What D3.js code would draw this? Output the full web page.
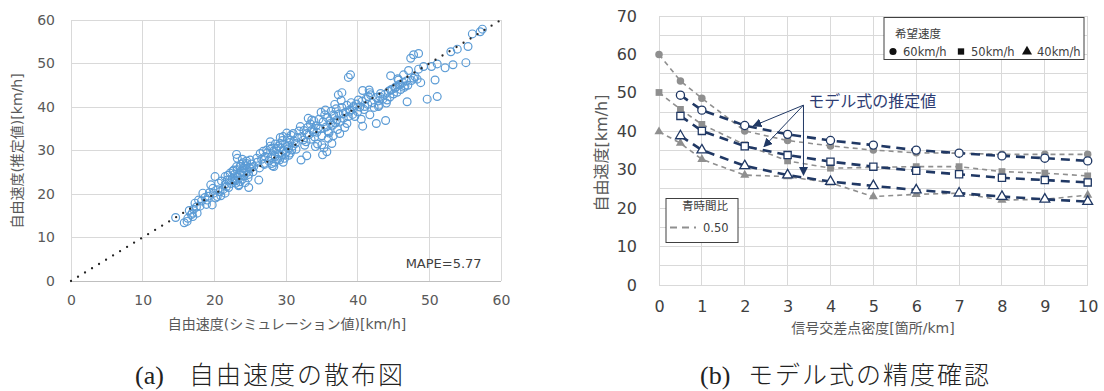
<!DOCTYPE html>
<html><head><meta charset="utf-8">
<script src="https://cdn.jsdelivr.net/npm/d3@7"></script>
<style>
html,body{margin:0;padding:0;background:#fff;}
svg{display:block;}
text{font-family:"DejaVu Sans","Noto Sans CJK JP",sans-serif;}
</style></head>
<body>
<svg id="c" width="1104" height="391"></svg>
<script>
// ---------- Data: (a) scatter ----------
const scatterTicks = [0,10,20,30,40,50,60];
const scatterPoints = [
[14.6,14.6],[15.8,13.4],[16.3,14.4],[16.9,15.6],[17.1,16.5],[17.6,15.6],[18.0,17.2],[17.3,17.9],[17.8,18.6],[18.4,20.2],
[19.0,18.6],[19.7,17.5],[19.2,19.5],[19.5,22.1],[20.1,24.0],[19.9,20.2],[20.6,22.5],[20.4,19.4],[20.8,20.5],[21.5,20.2],
[21.7,21.7],[21.5,24.0],[22.1,23.2],[22.2,24.8],[22.7,25.5],[23.1,29.1],[23.2,28.2],[22.9,23.2],[23.4,22.1],[23.6,26.3],
[24.1,24.8],[24.5,27.0],[24.8,21.5],[25.5,26.3],[25.0,27.8],[25.9,28.2],[26.2,23.2],[26.4,29.3],[26.9,27.0],[27.3,30.1],
[27.8,32.0],[27.1,28.6],[28.0,27.0],[28.3,26.3],[28.5,28.6],[28.7,30.5],[29.2,31.6],[29.6,33.2],[29.9,29.3],[30.1,30.9],
[30.6,32.4],[31.0,33.9],[30.8,30.1],[31.3,31.6],[32.1,27.8],[32.9,28.8],[32.0,35.5],[32.4,32.4],[32.9,33.9],[33.6,37.0],
[33.8,34.3],[34.1,30.9],[34.5,35.1],[35.0,31.3],[35.1,29.0],[35.5,39.3],[35.7,29.7],[35.9,34.3],[36.2,36.2],[36.4,31.6],
[36.6,38.2],[37.1,37.0],[37.3,42.8],[37.8,43.3],[37.5,33.9],[38.0,38.5],[38.7,46.8],[39.0,47.4],[38.5,36.2],[38.9,39.3],
[39.4,40.1],[39.6,37.8],[40.1,41.6],[40.5,37.2],[40.7,35.6],[40.7,43.8],[41.0,40.1],[41.5,42.4],[41.7,38.2],[41.7,43.3],
[42.6,36.2],[42.9,40.1],[43.1,42.4],[43.9,36.9],[44.1,41.6],[44.6,47.2],[44.6,43.9],[45.2,44.3],[45.7,46.2],[45.9,45.1],
[46.4,47.4],[46.6,44.8],[46.9,41.2],[47.1,48.4],[47.4,51.2],[47.8,52.0],[48.5,52.3],[47.8,46.6],[48.5,48.7],[48.8,45.6],
[49.2,49.3],[49.7,41.8],[50.3,49.3],[50.8,46.2],[51.1,42.4],[51.1,49.9],[52.2,49.0],[53.0,52.7],[53.3,49.7],[53.9,53.3],
[55.1,50.2],[55.4,53.9],[56.0,56.8],[57.1,57.3],[57.4,57.9],
[22.5,23.5],[22.8,24.5],[23.0,22.5],[23.2,25.6],[23.3,23.9],[23.5,24.8],[23.6,22.8],[23.7,26.8],[23.8,25.2],[23.9,23.4],
[24.0,27.2],[24.1,24.1],[24.2,25.9],[24.3,22.6],[24.4,26.5],[24.6,25.0],[24.7,23.7],[24.9,26.1],[23.4,21.9],[23.1,26.3],
[22.6,25.3],[22.9,23.0],[24.5,27.6],[25.2,26.9],[25.4,25.1],[23.6,24.3],[24.0,26.0],[24.8,24.5],[22.3,22.4],[23.9,28.0],
[25.0,25.8],[21.8,23.2],[21.5,22.2],[22.0,21.5],[20.5,21.0],[20.9,19.6],[21.2,21.0],[19.8,21.3],[19.3,20.3],[18.7,19.2],
[18.2,18.4],[17.5,17.0],[16.8,15.3],[16.5,16.2],[17.0,14.8],[16.2,13.7],[18.9,17.6],[20.2,19.1],[21.0,23.0],[21.9,24.3],
[26.0,27.3],[26.3,26.0],[26.6,28.0],[27.0,26.8],[27.4,29.5],[27.6,27.6],[27.9,28.4],[28.1,26.5],[28.2,29.8],[28.4,27.3],
[28.6,30.2],[28.8,28.0],[28.9,31.0],[29.0,29.2],[29.1,27.8],[29.3,30.6],[29.4,28.7],[29.5,32.3],[29.7,30.0],[29.8,28.2],
[29.9,31.4],[30.0,29.6],[30.2,32.8],[30.3,30.4],[30.4,28.9],[30.5,31.8],[30.7,33.5],[30.9,31.0],[31.1,32.2],[31.4,30.3],
[31.6,33.0],[28.5,31.5],[29.2,33.0],[30.1,34.0],[27.8,31.0],[26.8,29.8],[31.8,34.5],[29.6,27.3],[28.0,30.5],[30.6,29.4],
[32.2,33.2],[32.5,34.6],[32.8,32.0],[33.0,35.3],[33.2,33.6],[33.4,36.1],[33.5,32.6],[33.7,34.8],[33.9,36.8],[34.0,33.1],
[34.2,35.7],[34.3,34.2],[34.6,37.2],[34.8,35.0],[35.0,33.4],[35.2,36.6],[35.4,38.2],[35.6,35.4],[35.8,37.5],[36.0,34.0],
[36.1,36.8],[36.3,39.0],[36.5,35.8],[36.7,37.9],[36.9,36.3],[37.0,39.6],[37.2,34.8],[37.4,38.4],[37.6,36.7],[37.8,39.9],
[38.0,37.4],[38.2,35.3],[38.3,38.8],[38.5,40.4],[38.7,37.8],[38.9,39.0],[39.1,41.0],[39.3,38.3],[39.5,39.8],[39.8,40.7],
[40.0,38.9],[34.4,31.5],[35.9,32.8],[36.6,33.4],[33.1,37.4],[34.9,38.8],[37.7,41.5],[36.8,40.6],[35.3,30.6],[32.6,31.2],
[40.3,40.0],[40.6,41.3],[40.9,39.4],[41.2,41.9],[41.4,40.6],[41.8,42.8],[42.0,41.0],[42.3,39.9],[42.6,42.2],[42.9,41.4],
[43.2,43.1],[43.5,41.8],[43.8,42.9],[44.0,40.9],[44.3,43.6],[44.5,42.3],[44.8,44.1],[45.0,43.0],[45.3,44.6],[45.5,43.4],
[45.8,45.2],[46.0,44.0],[46.3,45.6],[46.5,44.5],[46.8,46.0],[47.0,45.0],[47.5,46.1],[48.0,47.0],[48.3,46.4],[43.0,40.4],
[41.6,43.9],[45.6,46.5]
];
const mapeLabel = "MAPE=5.77";

// ---------- Data: (b) model check ----------
const densityX = [0,0.5,1,2,3,4,5,6,7,8,9,10];
const modelX   = [0.5,1,2,3,4,5,6,7,8,9,10];
const sim60 = [60.0,53.1,48.6,40.1,37.6,36.2,35.1,34.4,34.3,34.0,34.0,34.0];
const sim50 = [50.1,45.7,41.8,36.5,32.3,30.4,30.6,30.8,30.8,29.5,29.1,28.4];
const sim40 = [39.9,36.9,32.7,28.6,28.2,26.6,23.0,23.6,23.9,22.1,22.3,23.4];
const est60 = [49.4,45.5,41.5,39.2,37.6,36.4,35.1,34.3,33.6,33.0,32.3];
const est50 = [44.0,40.1,36.1,33.8,32.1,30.8,29.7,28.8,27.9,27.3,26.7];
const est40 = [38.8,35.1,31.0,28.6,26.9,25.8,24.7,23.9,23.0,22.3,21.7];
const densityTicks = [0,1,2,3,4,5,6,7,8,9,10];
const speedTicks = [0,10,20,30,40,50,60,70];
const speedMinor = [0,5,10,15,20,25,30,35,40,45,50,55,60,65,70];
const legendSpeeds = ["60km/h","50km/h","40km/h"];

const svg = d3.select("#c");
const gridC = "#d9d9d9", tickC = "#595959", navy = "#203864", grayC = "#8f8f8f";

// ================= (a) =================
const ax = d3.scaleLinear().domain([0,60]).range([71,501]);
const ay = d3.scaleLinear().domain([0,60]).range([281,20]);
const ga = svg.append("g");
ga.selectAll(".vg").data(scatterTicks).join("line")
  .attr("x1",d=>ax(d)).attr("x2",d=>ax(d)).attr("y1",ay(0)).attr("y2",ay(60))
  .attr("stroke",gridC).attr("stroke-width",1).attr("shape-rendering","crispEdges");
ga.selectAll(".hg").data(scatterTicks).join("line")
  .attr("x1",ax(0)).attr("x2",ax(60)).attr("y1",d=>ay(d)).attr("y2",d=>ay(d))
  .attr("stroke",d=>d===0?"#bfbfbf":gridC).attr("stroke-width",1).attr("shape-rendering","crispEdges");

const axA = ga.append("g").attr("transform",`translate(0,${ay(0)})`)
  .call(d3.axisBottom(ax).tickValues(scatterTicks).tickSize(0).tickPadding(14));
const ayA = ga.append("g").attr("transform",`translate(${ax(0)},0)`)
  .call(d3.axisLeft(ay).tickValues(scatterTicks).tickSize(0).tickPadding(16));
[axA,ayA].forEach(g=>{g.select(".domain").remove();
  g.selectAll("text").attr("fill",tickC).style("font-size","14px").style("font-family","DejaVu Sans");});

// points
ga.selectAll(".pt").data(scatterPoints).join("circle")
  .attr("cx",d=>ax(d[0])).attr("cy",d=>ay(d[1])).attr("r",3.9)
  .attr("fill","none").attr("stroke","#5b9bd5").attr("stroke-width",1.2);
// 1:1 dotted line
ga.append("line").attr("x1",ax(0)).attr("y1",ay(0)).attr("x2",ax(60)).attr("y2",ay(60))
  .attr("stroke","#262626").attr("stroke-width",2.3).attr("stroke-linecap","round")
  .attr("stroke-dasharray","0,8.2");
ga.append("text").attr("x",ax(57.3)).attr("y",ay(3)).attr("text-anchor","end")
  .attr("fill","#404040").style("font-size","13px").text(mapeLabel);
ga.append("text").attr("x",287).attr("y",329).attr("text-anchor","middle")
  .attr("fill",tickC).style("font-size","14px").text("自由速度(シミュレーション値)[km/h]");
ga.append("text").attr("transform","translate(22,151) rotate(-90)").attr("text-anchor","middle")
  .attr("fill",tickC).style("font-size","14px").text("自由速度(推定値)[km/h]");

// ================= (b) =================
const bx = d3.scaleLinear().domain([0,10]).range([659,1087.7]);
const by = d3.scaleLinear().domain([0,70]).range([285,16]);
const gb = svg.append("g");
gb.selectAll(".hg").data(speedMinor).join("line")
  .attr("x1",bx(0)).attr("x2",bx(10)).attr("y1",d=>by(d)).attr("y2",d=>by(d))
  .attr("stroke",gridC).attr("stroke-width",1).attr("shape-rendering","crispEdges");
gb.selectAll(".vg").data(densityTicks).join("line")
  .attr("x1",d=>bx(d)).attr("x2",d=>bx(d)).attr("y1",by(0)).attr("y2",by(70))
  .attr("stroke",gridC).attr("stroke-width",1).attr("shape-rendering","crispEdges");
const bxA = gb.append("g").attr("transform",`translate(0,${by(0)})`)
  .call(d3.axisBottom(bx).tickValues(densityTicks).tickFormat(d3.format("d")).tickSize(0).tickPadding(16));
const byA = gb.append("g").attr("transform",`translate(${bx(0)},0)`)
  .call(d3.axisLeft(by).tickValues(speedTicks).tickSize(0).tickPadding(22));
[bxA,byA].forEach(g=>{g.select(".domain").remove();
  g.selectAll("text").attr("fill","#404040").style("font-size","16px").style("font-family","DejaVu Sans");});

const line = d3.line().x(d=>bx(d[0])).y(d=>by(d[1]));
const simSeries = [sim60,sim50,sim40].map(s=>densityX.map((x,i)=>[x,s[i]]));
const estSeries = [est60,est50,est40].map(s=>modelX.map((x,i)=>[x,s[i]]));
const shapes = [d3.symbolCircle,d3.symbolSquare,d3.symbolTriangle];
const simSizes = [44,46,36], estSizes = [52,52,42];

simSeries.forEach((s,k)=>{
  gb.append("path").datum(s).attr("d",line).attr("fill","none")
    .attr("stroke",grayC).attr("stroke-width",1.6).attr("stroke-dasharray","5,4");
});
simSeries.forEach((s,k)=>{
  gb.selectAll(null).data(s).join("path")
    .attr("transform",d=>`translate(${bx(d[0])},${by(d[1])})`)
    .attr("d",d3.symbol().type(shapes[k]).size(simSizes[k])).attr("fill",grayC);
});
estSeries.forEach((s,k)=>{
  gb.append("path").datum(s).attr("d",line).attr("fill","none")
    .attr("stroke",navy).attr("stroke-width",2.6).attr("stroke-dasharray","9,6");
});
estSeries.forEach((s,k)=>{
  gb.selectAll(null).data(s).join("path")
    .attr("transform",d=>`translate(${bx(d[0])},${by(d[1])})`)
    .attr("d",d3.symbol().type(shapes[k]).size(estSizes[k])).attr("fill","#fff")
    .attr("stroke",navy).attr("stroke-width",1.3);
});

// annotation
const defs = svg.append("defs");
defs.append("marker").attr("id","ah").attr("viewBox","0 0 10 10").attr("refX",9).attr("refY",5)
  .attr("markerWidth",9).attr("markerHeight",9).attr("markerUnits","userSpaceOnUse").attr("orient","auto")
  .append("path").attr("d","M0,0 L10,5 L0,10 Z").attr("fill",navy);
const annoFrom = [3.37,46.8];
const annoTo = [[2.2,41.4],[2.45,36.0],[3.37,28.6]];
annoTo.forEach(t=>{
  gb.append("line").attr("x1",bx(annoFrom[0])).attr("y1",by(annoFrom[1]))
    .attr("x2",bx(t[0])).attr("y2",by(t[1])).attr("stroke",navy).attr("stroke-width",1)
    .attr("marker-end","url(#ah)");
});
gb.append("text").attr("x",bx(3.48)).attr("y",by(46.8)+2).attr("fill","#2e3d73")
  .style("font-size","16px").text("モデル式の推定値");

// legend 1
const lg = gb.append("g");
lg.append("rect").attr("x",884).attr("y",17.5).attr("width",200).attr("height",42)
  .attr("fill","#fff").attr("stroke","#404040").attr("stroke-width",1);
lg.append("text").attr("x",895).attr("y",38).attr("fill","#404040").style("font-size","11.5px").text("希望速度");
const lgX = [893,961,1027];
legendSpeeds.forEach((t,i)=>{
  lg.append("path").attr("transform",`translate(${lgX[i]},${51.5})`)
    .attr("d",d3.symbol().type(shapes[i]).size(i===2?44:40)).attr("fill","#111");
  lg.append("text").attr("x",lgX[i]+10).attr("y",55.5).attr("fill","#404040")
    .style("font-size","11.5px").text(t);
});
// legend 2
const lg2 = gb.append("g");
lg2.append("rect").attr("x",666).attr("y",198.5).attr("width",72).attr("height",44)
  .attr("fill","#fff").attr("stroke","#404040").attr("stroke-width",1);
lg2.append("text").attr("x",705).attr("y",210).attr("text-anchor","middle").attr("fill","#404040")
  .style("font-size","11.5px").text("青時間比");
lg2.append("line").attr("x1",670).attr("x2",696).attr("y1",227.5).attr("y2",227.5)
  .attr("stroke",grayC).attr("stroke-width",1.8).attr("stroke-dasharray","7,5");
lg2.append("text").attr("x",703).attr("y",232).attr("fill","#404040").style("font-size","11.5px").text("0.50");

gb.append("text").attr("x",873).attr("y",333).attr("text-anchor","middle")
  .attr("fill",tickC).style("font-size","14px").text("信号交差点密度[箇所/km]");
gb.append("text").attr("transform","translate(607,153) rotate(-90)").attr("text-anchor","middle")
  .attr("fill",tickC).style("font-size","16px").text("自由速度[km/h]");

// captions
const cap = svg.append("g").attr("fill","#222");
cap.append("text").attr("x",135).attr("y",384).style("font-family","Liberation Serif").style("font-size","26px").text("(a)");
cap.append("text").attr("x",189).attr("y",384).style("font-family","Noto Sans CJK JP").style("font-size","25px")
  .style("letter-spacing","2px").style("font-weight","300").text("自由速度の散布図");
cap.append("text").attr("x",700).attr("y",384).style("font-family","Liberation Serif").style("font-size","26px").text("(b)");
cap.append("text").attr("x",748).attr("y",384).style("font-family","Noto Sans CJK JP").style("font-size","25px")
  .style("letter-spacing","2px").style("font-weight","300").text("モデル式の精度確認");
</script>
</body></html>
